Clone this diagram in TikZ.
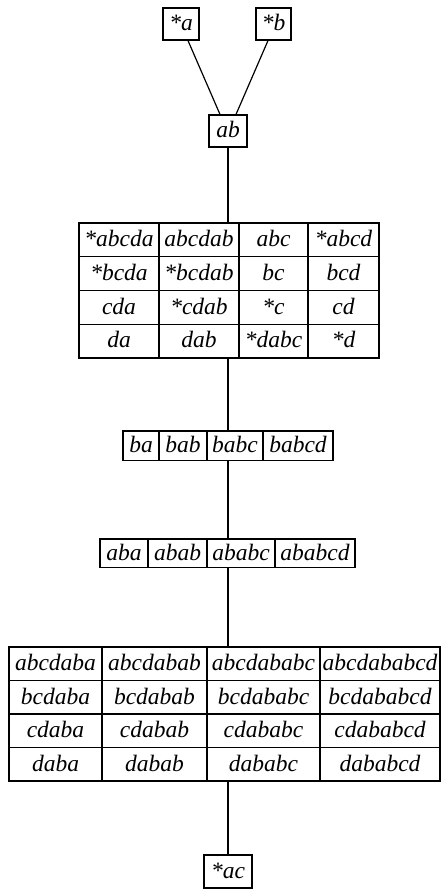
\documentclass[tikz,border=0pt]{standalone}
\usepackage{fontspec}
\setmainfont{Liberation Serif}
\begin{document}
\begin{tikzpicture}[x=1pt,y=-1pt,
  line width=1.2pt,
  every node/.style={font=\fontsize{23.5pt}{26pt}\selectfont\itshape},
  cellbox/.style={draw, inner sep=0pt, text height=16.7pt, text depth=3pt},
  link/.style={draw, line width=1.2pt}]
\useasboundingbox (0,0) rectangle (441,891);

% a table of boxed cells: name, column edges, top, row height, rows
\newcommand\celltable[5]{%
  \foreach \rowlist [count=\rr] in {#5} {
    \foreach \txt [count=\cc] in \rowlist {
      \pgfmathsetmacro\xa{{#2}[\cc-1]}
      \pgfmathsetmacro\xb{{#2}[\cc]}
      \pgfmathsetmacro\yc{#3+(\rr-0.5)*#4}
      \node[cellbox, minimum width={(\xb-\xa)*1pt}, minimum height=#4pt]
        (#1-\rr-\cc) at ({(\xa+\xb)/2},\yc) {\txt};
    }
  }}

% single boxes
\node[cellbox, minimum width=36pt, minimum height=32pt] (sa) at (181,24) {*a};
\node[cellbox, minimum width=35pt, minimum height=32pt] (sb) at (273.5,24) {*b};
\node[cellbox, minimum width=38pt, minimum height=32pt] (ab) at (228,131) {ab};
\node[cellbox, minimum width=48pt, minimum height=33pt] (ac) at (228,871.5) {*ac};

% tables
\celltable{t1}{79,159,239,308,379}{223}{33.75}{%
  {*abcda,abcdab,abc,*abcd},{*bcda,*bcdab,bc,bcd},{cda,*cdab,*c,cd},{da,dab,*dabc,*d}}
\celltable{t2}{123,159,207,263,333}{431}{29.5}{{ba,bab,babc,babcd}}
\celltable{t3}{100,148,207,275,355}{539}{28.5}{{aba,abab,ababc,ababcd}}
\celltable{t4}{9,102,207,320,440}{647}{33.5}{%
  {abcdaba,abcdabab,abcdababc,abcdababcd},{bcdaba,bcdabab,bcdababc,bcdababcd},
  {cdaba,cdabab,cdababc,cdababcd},{daba,dabab,dababc,dababcd}}

% connectors
\draw[link] ([xshift=7pt]sa.south) -- ([xshift=-8pt]ab.north);
\draw[link] ([xshift=-5.5pt]sb.south) -- ([xshift=8pt]ab.north);
\draw[link] (ab.south) -- (ab.south |- t1-1-1.north);
\draw[link] (ab.south |- t1-4-1.south) -- (ab.south |- t2-1-1.north);
\draw[link] (ab.south |- t2-1-1.south) -- (ab.south |- t3-1-1.north);
\draw[link] (ab.south |- t3-1-1.south) -- (ab.south |- t4-1-1.north);
\draw[link] (ab.south |- t4-4-1.south) -- (ac.north);
\end{tikzpicture}
\end{document}
